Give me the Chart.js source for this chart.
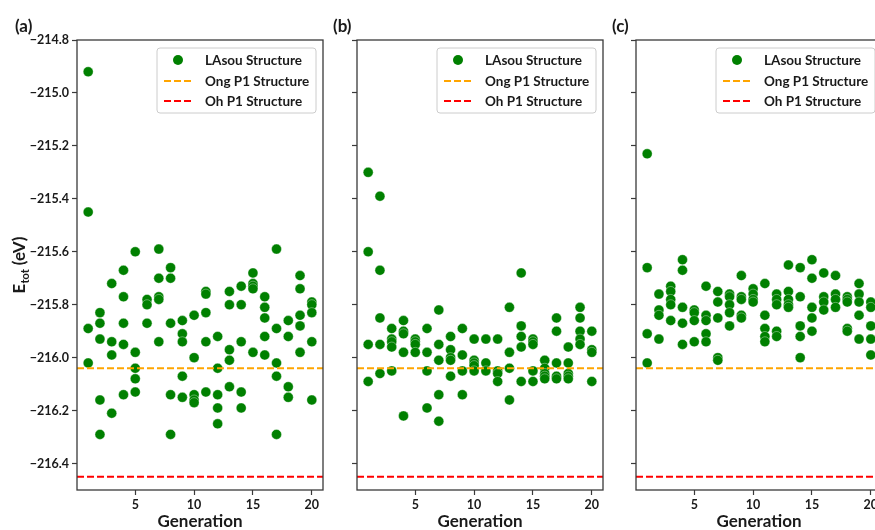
<!DOCTYPE html>
<html>
<head>
<meta charset="utf-8">
<script src="https://cdn.jsdelivr.net/npm/chart.js@4/dist/chart.umd.min.js"></script>
<style>
  html, body { margin: 0; padding: 0; background: #fff; overflow: hidden; width: 875px; height: 530px; }
  .panel { position: absolute; top: 0; height: 530px; }
  #panel-a { left: 0; width: 330px; }
  #panel-b { left: 330px; width: 290px; }
  #panel-c { left: 610px; width: 290px; }
</style>
</head>
<body>
<div class="panel" id="panel-a"><canvas id="chart-a" width="330" height="530"></canvas></div>
<div class="panel" id="panel-b"><canvas id="chart-b" width="290" height="530"></canvas></div>
<div class="panel" id="panel-c"><canvas id="chart-c" width="290" height="530"></canvas></div>
<script>
// generations 1..20, energies (eV) per generation
const GENERATIONS = [1, 2, 3, 4, 5, 6, 7, 8, 9, 10, 11, 12, 13, 14, 15, 16, 17, 18, 19, 20];

const energyA = [
  [-214.92, -215.45, -215.89, -216.02],
  [-215.83, -215.87, -215.93, -216.16, -216.29],
  [-215.72, -215.94, -215.99, -216.21],
  [-215.67, -215.77, -215.87, -215.95, -216.14],
  [-215.60, -215.98, -216.04, -216.08, -216.13],
  [-215.78, -215.80, -215.87],
  [-215.59, -215.70, -215.77, -215.78, -215.94],
  [-215.66, -215.70, -215.87, -216.14, -216.29],
  [-215.86, -215.91, -215.94, -216.07, -216.15],
  [-215.84, -216.00, -216.14, -216.16, -216.17],
  [-215.75, -215.76, -215.83, -215.94, -216.13],
  [-215.92, -216.04, -216.14, -216.19, -216.25],
  [-215.75, -215.80, -215.97, -216.01, -216.11],
  [-215.73, -215.80, -215.94, -216.13, -216.19],
  [-215.68, -215.72, -215.73, -215.74, -215.98],
  [-215.77, -215.81, -215.85, -215.92, -215.99],
  [-215.59, -215.89, -216.02, -216.07, -216.29],
  [-215.86, -215.92, -216.11, -216.15],
  [-215.69, -215.74, -215.84, -215.88, -215.98],
  [-215.79, -215.80, -215.83, -215.94, -216.16]
];

const energyB = [
  [-215.30, -215.60, -215.95, -216.09],
  [-215.39, -215.67, -215.85, -215.95, -216.06],
  [-215.89, -215.93, -215.94, -215.96, -216.05],
  [-215.86, -215.90, -215.91, -215.98, -216.22],
  [-215.93, -215.94, -215.95, -215.98],
  [-215.89, -215.98, -216.05, -216.19],
  [-215.82, -215.95, -216.01, -216.14, -216.24],
  [-215.92, -215.97, -216.00, -216.01, -216.07],
  [-215.89, -215.99, -216.05, -216.14],
  [-215.93, -216.01, -216.02, -216.03, -216.05],
  [-215.93, -216.02, -216.05],
  [-215.93, -216.05, -216.06, -216.09],
  [-215.81, -215.98, -216.04, -216.16],
  [-215.68, -215.88, -215.92, -215.96, -216.09],
  [-215.93, -215.94, -215.95, -216.05, -216.09],
  [-216.01, -216.04, -216.06, -216.07, -216.08],
  [-215.85, -215.90, -216.02, -216.07, -216.08],
  [-215.96, -216.02, -216.06, -216.07, -216.08],
  [-215.81, -215.85, -215.90, -215.93, -215.95],
  [-215.90, -215.97, -215.98, -216.09]
];

const energyC = [
  [-215.23, -215.66, -215.91, -216.02],
  [-215.76, -215.82, -215.84, -215.93],
  [-215.73, -215.75, -215.78, -215.80, -215.86],
  [-215.63, -215.67, -215.81, -215.87, -215.95],
  [-215.82, -215.83, -215.86, -215.94],
  [-215.73, -215.84, -215.86, -215.91, -215.94],
  [-215.75, -215.79, -215.85, -216.00, -216.01],
  [-215.76, -215.77, -215.80, -215.83, -215.88],
  [-215.69, -215.77, -215.78, -215.84, -215.85],
  [-215.74, -215.76, -215.78, -215.79],
  [-215.72, -215.84, -215.89, -215.92, -215.94],
  [-215.76, -215.78, -215.80, -215.90, -215.92],
  [-215.65, -215.75, -215.78, -215.80, -215.81],
  [-215.66, -215.77, -215.88, -215.92, -216.00],
  [-215.63, -215.70, -215.81, -215.85, -215.90],
  [-215.68, -215.77, -215.79, -215.82],
  [-215.69, -215.76, -215.78, -215.81],
  [-215.77, -215.78, -215.79, -215.89, -215.90],
  [-215.72, -215.76, -215.79, -215.84, -215.93],
  [-215.79, -215.81, -215.88, -215.93, -215.99]
];

// reference structures
const ONG_P1 = -216.04;
const OH_P1 = -216.45;

const X_TICKS = [5, 10, 15, 20];
const Y_TICKS = [-216.4, -216.2, -216.0, -215.8, -215.6, -215.4, -215.2, -215.0, -214.8];
const X_MIN = 0.05, X_MAX = 20.95;
const Y_MIN = -216.5, Y_MAX = -214.8;

const FONT = 'Lato, "Open Sans", sans-serif';
const INK = '#1a1a1a';

function toPoints(groups) {
  const pts = [];
  groups.forEach((vals, i) => vals.forEach(v => pts.push({ x: GENERATIONS[i], y: v })));
  return pts;
}

function fmtTick(v) {
  return (v < 0 ? '\u2212' : '') + Math.abs(v).toFixed(1);
}

// frame, panel letter, y title and legend
const decoPlugin = {
  id: 'deco',
  afterDraw(chart, args, opts) {
    const ctx = chart.ctx;
    const a = chart.chartArea;
    ctx.save();

    // full box around the axes
    ctx.strokeStyle = '#3a3a3a';
    ctx.lineWidth = 1.3;
    ctx.strokeRect(a.left, a.top, a.right - a.left, a.bottom - a.top);

    // panel letter
    ctx.fillStyle = INK;
    ctx.font = 'bold 17px ' + FONT;
    ctx.textBaseline = 'alphabetic';
    ctx.textAlign = 'left';
    ctx.fillText(opts.label, opts.labelX, 32);

    // y title with subscript
    if (opts.yTitle) {
      ctx.save();
      ctx.translate(20, (a.top + a.bottom) / 2);
      ctx.rotate(-Math.PI / 2);
      ctx.font = 'bold 17px ' + FONT;
      const wE = ctx.measureText('E').width;
      const rest = ' (eV)';
      const wR = ctx.measureText(rest).width;
      ctx.font = 'bold 11px ' + FONT;
      const wS = ctx.measureText('tot').width;
      let x = -(wE + wS + wR) / 2;
      ctx.textBaseline = 'middle';
      ctx.font = 'bold 17px ' + FONT;
      ctx.fillText('E', x, 0);
      x += wE;
      ctx.font = 'bold 11px ' + FONT;
      ctx.fillText('tot', x, 5);
      x += wS;
      ctx.font = 'bold 17px ' + FONT;
      ctx.fillText(rest, x, 0);
      ctx.restore();
    }

    // legend box in upper right
    const bw = 159, bh = 65;
    const bx = a.right - 7 - bw, by = a.top + 8;
    ctx.fillStyle = 'rgba(255,255,255,0.85)';
    ctx.strokeStyle = '#cccccc';
    ctx.lineWidth = 1;
    ctx.beginPath();
    ctx.roundRect(bx, by, bw, bh, 3);
    ctx.fill();
    ctx.stroke();

    const rows = [by + 12, by + 33, by + 53];
    ctx.font = 'bold 13.5px ' + FONT;
    ctx.textBaseline = 'middle';
    chart.data.datasets.forEach((ds, i) => {
      const y = rows[i];
      if (ds.showLine) {
        ctx.strokeStyle = ds.borderColor;
        ctx.lineWidth = 2;
        ctx.setLineDash([7, 3]);
        ctx.beginPath();
        ctx.moveTo(bx + 7, y);
        ctx.lineTo(bx + 35, y);
        ctx.stroke();
        ctx.setLineDash([]);
      } else {
        ctx.fillStyle = ds.backgroundColor;
        ctx.beginPath();
        ctx.arc(bx + 21, y, 5, 0, Math.PI * 2);
        ctx.fill();
      }
      ctx.fillStyle = INK;
      ctx.fillText(ds.label, bx + 48, y + 1);
    });
    ctx.restore();
  }
};

function makeChart(id, groups, deco) {
  const showY = deco.yTitle;
  return new Chart(document.getElementById(id), {
    type: 'scatter',
    data: {
      datasets: [
        {
          label: 'LAsou Structure',
          data: toPoints(groups),
          backgroundColor: '#008000',
          borderColor: 'rgba(255,255,255,0.45)',
          borderWidth: 0.8,
          pointRadius: 5,
          order: 1
        },
        {
          label: 'Ong P1 Structure',
          data: [{ x: X_MIN, y: ONG_P1 }, { x: X_MAX, y: ONG_P1 }],
          showLine: true,
          borderColor: '#ffa500',
          borderWidth: 2,
          borderDash: [7, 3],
          pointRadius: 0,
          order: 0
        },
        {
          label: 'Oh P1 Structure',
          data: [{ x: X_MIN, y: OH_P1 }, { x: X_MAX, y: OH_P1 }],
          showLine: true,
          borderColor: '#ff0000',
          borderWidth: 2,
          borderDash: [7, 3],
          pointRadius: 0,
          order: 0
        }
      ]
    },
    options: {
      responsive: false,
      animation: false,
      layout: { padding: { top: 40, right: deco.padRight, left: 0, bottom: 0 } },
      plugins: { legend: { display: false }, tooltip: { enabled: false }, deco: deco },
      scales: {
        x: {
          type: 'linear',
          min: X_MIN,
          max: X_MAX,
          afterBuildTicks: s => { s.ticks = X_TICKS.map(v => ({ value: v })); },
          afterFit: s => { s.height = 40; },
          grid: { drawOnChartArea: false, drawTicks: true, tickLength: 5, color: '#3a3a3a', tickWidth: 1.2 },
          border: { display: false },
          ticks: { color: INK, font: { family: FONT, size: 12.5, weight: 'bold' }, padding: 2, maxRotation: 0 },
          title: {
            display: true,
            text: 'Generation',
            color: INK,
            font: { family: FONT, size: 17, weight: 'bold', lineHeight: 1 },
            padding: { top: 0, bottom: 0 }
          }
        },
        y: {
          type: 'linear',
          min: Y_MIN,
          max: Y_MAX,
          afterBuildTicks: s => { s.ticks = Y_TICKS.map(v => ({ value: v })); },
          afterFit: s => { s.width = deco.axisWidth; },
          grid: { drawOnChartArea: false, drawTicks: true, tickLength: 5, color: '#3a3a3a', tickWidth: 1.2 },
          border: { display: false },
          ticks: {
            display: showY,
            color: INK,
            font: { family: FONT, size: 12.5, weight: 'bold' },
            padding: 3,
            callback: v => fmtTick(v)
          }
        }
      }
    },
    plugins: [decoPlugin]
  });
}

makeChart('chart-a', energyA, { label: '(a)', labelX: 15, yTitle: true, axisWidth: 77, padRight: 7 });
makeChart('chart-b', energyB, { label: '(b)', labelX: 3, yTitle: false, axisWidth: 27, padRight: 17 });
makeChart('chart-c', energyC, { label: '(c)', labelX: 2, yTitle: false, axisWidth: 26, padRight: 18 });
</script>
</body>
</html>
